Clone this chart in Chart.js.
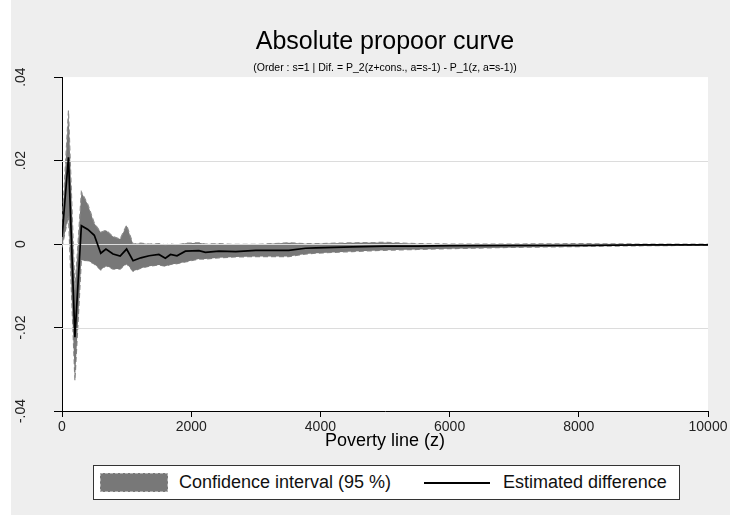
<!DOCTYPE html>
<html>
<head>
<meta charset="utf-8">
<script src="https://cdn.jsdelivr.net/npm/chart.js@4"></script>
<style>
  html, body { margin: 0; padding: 0; background: #ffffff; }
  #wrap { position: absolute; left: 11px; top: 0; width: 719px; height: 515px; background: #eeeeee; }
  #legend {
    position: absolute; left: 82px; top: 465px; width: 587px; height: 35px;
    box-sizing: border-box; border: 1px solid #333; background: #fff;
    font-family: "Liberation Sans", Arial, sans-serif; font-size: 18px; color: #111;
  }
  #legend .swatch {
    position: absolute; left: 6px; top: 7px; width: 68px; height: 19px; box-sizing: border-box;
    background: #787878; border: 1px dashed #b0b0b0;
  }
  #legend .stroke { position: absolute; left: 330px; top: 16px; width: 66px; height: 2px; background: #000; }
  #legend .txt { position: absolute; top: 6px; line-height: 21px; white-space: nowrap; }
</style>
</head>
<body>
<div id="wrap">
  <canvas id="propoorChart" width="719" height="515"></canvas>
  <div id="legend">
    <div class="swatch"></div>
    <span class="txt" style="left:85px">Confidence interval (95 %)</span>
    <div class="stroke"></div>
    <span class="txt" style="left:409px">Estimated difference</span>
  </div>
</div>
<script>
// poverty lines (z) where the curve was evaluated
const povertyLines = [0, 100, 200, 300, 400, 500, 600, 680, 790, 900, 1000, 1100, 1220, 1350, 1500,
  1600, 1680, 1780, 1910, 2120, 2220, 2430, 2690, 3000, 3510, 3770, 3930, 4500, 5000, 5500,
  6000, 7000, 8000, 9000, 10000];

// estimated difference P_2 - P_1
const estDiff = [0.0017, 0.0208, -0.0223, 0.0044, 0.0035, 0.0021, -0.0022, -0.0012, -0.0024, -0.0029,
  -0.0012, -0.0040, -0.0033, -0.0028, -0.0025, -0.0034, -0.0025, -0.0028, -0.0017, -0.0016,
  -0.0020, -0.0017, -0.0018, -0.0015, -0.0015, -0.0010, -0.0009, -0.0007, -0.0005, -0.0005,
  -0.0004, -0.0003, -0.0003, -0.0002, -0.0002];

// 95% confidence bounds
const ciUpper = [0.0040, 0.0320, -0.0110, 0.0125, 0.0095, 0.0050, 0.0028, 0.0033, 0.0018, 0.0012,
  0.0045, 0.0000, 0.0002, 0.0000, 0.0001, -0.0002, 0.0000, -0.0002, 0.0002, 0.0003,
  0.0000, 0.0001, -0.0001, -0.0001, 0.0003, 0.0001, 0.0001, 0.0003, 0.0004, 0.0001,
  0.0000, 0.0000, 0.0001, 0.0000, 0.0000];
const ciLower = [-0.0008, 0.0068, -0.0327, -0.0039, -0.0040, -0.0048, -0.0062, -0.0052, -0.0060, -0.0060,
  -0.0047, -0.0065, -0.0058, -0.0053, -0.0050, -0.0053, -0.0049, -0.0047, -0.0043, -0.0036,
  -0.0036, -0.0033, -0.0031, -0.0030, -0.0030, -0.0024, -0.0022, -0.0018, -0.0015, -0.0013,
  -0.0011, -0.0008, -0.0006, -0.0004, -0.0003];

const xTickValues = [0, 2000, 4000, 6000, 8000, 10000];
const xTickLabels = ["0", "2000", "4000", "6000", "8000", "10000"];
const yTickValues = [0.04, 0.02, 0, -0.02, -0.04];
const yTickLabels = [".04", ".02", "0", "-.02", "-.04"];
const yGridValues = [0.02, 0, -0.02];

const FONT = "'Liberation Sans', Arial, sans-serif";

function toPoints(ys) {
  return povertyLines.map((x, i) => ({ x: x, y: ys[i] }));
}

// white plot region on the grey background
const plotBackground = {
  id: "plotBackground",
  beforeDraw(chart) {
    const { ctx, chartArea } = chart;
    ctx.save();
    ctx.fillStyle = "#ffffff";
    ctx.fillRect(chartArea.left, chartArea.top, chartArea.right - chartArea.left, chartArea.bottom - chartArea.top);
    ctx.restore();
  },
};

// horizontal grid lines go over the band but under the estimate line
const bandGrid = {
  id: "bandGrid",
  beforeDatasetDraw(chart, args) {
    if (args.index !== 0) return;
    const { ctx, chartArea } = chart;
    const yScale = chart.scales.y;
    ctx.save();
    ctx.strokeStyle = "#dcdcdc";
    ctx.lineWidth = 1;
    yGridValues.forEach((v) => {
      const y = Math.round(yScale.getPixelForValue(v)) + 0.5;
      ctx.beginPath();
      ctx.moveTo(chartArea.left, y);
      ctx.lineTo(chartArea.right, y);
      ctx.stroke();
    });
    ctx.restore();
  },
};

// vertical tick labels on the y axis
const yLabels = {
  id: "yLabels",
  afterDraw(chart) {
    const { ctx } = chart;
    const yScale = chart.scales.y;
    ctx.save();
    ctx.fillStyle = "#222";
    ctx.font = "14px " + FONT;
    ctx.textAlign = "center";
    ctx.textBaseline = "middle";
    yTickValues.forEach((v, i) => {
      ctx.save();
      ctx.translate(10, yScale.getPixelForValue(v));
      ctx.rotate(-Math.PI / 2);
      ctx.fillText(yTickLabels[i], 0, 0);
      ctx.restore();
    });
    ctx.restore();
  },
};

const ctx = document.getElementById("propoorChart").getContext("2d");

new Chart(ctx, {
  type: "line",
  data: {
    datasets: [
      {
        label: "Estimated difference",
        data: toPoints(estDiff),
        borderColor: "#000000",
        borderWidth: 1.7,
        pointRadius: 0,
        tension: 0,
        fill: false,
      },
      {
        label: "Confidence interval (95 %)",
        data: toPoints(ciUpper),
        borderColor: "#8c8c8c",
        borderWidth: 1.2,
        borderDash: [5, 3],
        backgroundColor: "#787878",
        pointRadius: 0,
        tension: 0,
        fill: "+1",
      },
      {
        label: "lower",
        data: toPoints(ciLower),
        borderColor: "#8c8c8c",
        borderWidth: 1.2,
        borderDash: [5, 3],
        pointRadius: 0,
        tension: 0,
        fill: false,
      },
    ],
  },
  options: {
    responsive: false,
    animation: false,
    devicePixelRatio: 1,
    layout: { padding: { left: 0, right: 22, top: 0, bottom: 63 } },
    plugins: {
      legend: { display: false },
      tooltip: { enabled: false },
      title: {
        display: true,
        text: "Absolute propoor curve",
        fullSize: false,
        color: "#000",
        font: { family: FONT, size: 25, weight: "normal" },
        padding: { top: 27, bottom: 5 },
      },
      subtitle: {
        display: true,
        text: "(Order : s=1 | Dif. = P_2(z+cons., a=s-1) - P_1(z, a=s-1))",
        fullSize: false,
        color: "#000",
        font: { family: FONT, size: 10.5 },
        padding: { top: 0, bottom: 2.5 },
      },
    },
    scales: {
      x: {
        type: "linear",
        min: 0,
        max: 10000,
        afterFit: (s) => { s.height = 41; },
        afterBuildTicks: (s) => { s.ticks = xTickValues.map((v) => ({ value: v })); },
        ticks: {
          color: "#222",
          font: { family: FONT, size: 14 },
          padding: 2,
          maxRotation: 0,
          callback: (v) => xTickLabels[xTickValues.indexOf(v)],
        },
        grid: { drawOnChartArea: false, drawTicks: true, tickLength: 6, color: "#000" },
        border: { display: true, color: "#000", width: 1 },
        title: {
          display: true,
          text: "Poverty line (z)",
          color: "#000",
          font: { family: FONT, size: 18 },
          padding: { top: 0, bottom: 0 },
        },
      },
      y: {
        min: -0.04,
        max: 0.04,
        afterFit: (s) => { s.width = 51; },
        ticks: { stepSize: 0.02, display: false },
        grid: { drawOnChartArea: false, drawTicks: true, tickLength: 8, color: "#000" },
        border: { display: true, color: "#000", width: 1 },
      },
    },
  },
  plugins: [plotBackground, bandGrid, yLabels],
});
</script>
</body>
</html>
